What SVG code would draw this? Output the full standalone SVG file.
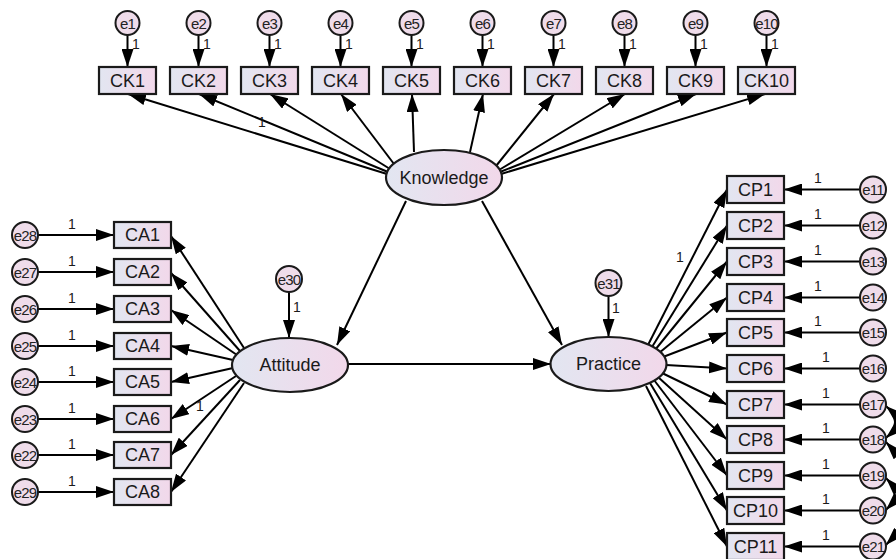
<svg xmlns="http://www.w3.org/2000/svg" width="896" height="559" viewBox="0 0 896 559">
<defs>
<linearGradient id="g" x1="0" y1="0" x2="1" y2="0">
<stop offset="0" stop-color="#e2e6f1"/>
<stop offset="1" stop-color="#f2d8ea"/>
</linearGradient>
<marker id="ah" markerUnits="userSpaceOnUse" markerWidth="18" markerHeight="12" refX="18" refY="6" orient="auto-start-reverse">
<path d="M0,0 L18,6 L0,12 z" fill="#000"/>
</marker>
</defs>
<style>
.b{fill:url(#g);stroke:#1a1a1a;stroke-width:2.2}
.e{fill:#efdcea;stroke:#1a1a1a;stroke-width:2}
.t{font-family:"Liberation Sans",Arial,sans-serif;font-size:18px;fill:#1a1a1a;text-anchor:middle;dominant-baseline:central}
.et{font-family:"Liberation Sans",Arial,sans-serif;font-size:15px;fill:#222;text-anchor:middle;dominant-baseline:central;letter-spacing:-0.8px}
.n{font-family:"Liberation Sans",Arial,sans-serif;font-size:14px;fill:#1a1a1a}
.c line,.c path{stroke:#000;stroke-width:2;fill:none;marker-end:url(#ah)}
.c path.cov{marker-start:url(#ah)}
</style>

<g id="connectors" class="c">
<line x1="127.5" y1="35" x2="127.5" y2="67"/>
<line x1="198.5" y1="35" x2="198.5" y2="67"/>
<line x1="269.5" y1="35" x2="269.5" y2="67"/>
<line x1="340.5" y1="35" x2="340.5" y2="67"/>
<line x1="411.5" y1="35" x2="411.5" y2="67"/>
<line x1="482.5" y1="35" x2="482.5" y2="67"/>
<line x1="553.5" y1="35" x2="553.5" y2="67"/>
<line x1="624.5" y1="35" x2="624.5" y2="67"/>
<line x1="695.5" y1="35" x2="695.5" y2="67"/>
<line x1="766.5" y1="35" x2="766.5" y2="67"/>
<line x1="387" y1="174" x2="128" y2="94"/>
<line x1="388" y1="172" x2="199" y2="94"/>
<line x1="390" y1="169" x2="270" y2="94"/>
<line x1="394" y1="164" x2="341" y2="94"/>
<line x1="414" y1="152" x2="412" y2="94"/>
<line x1="470" y1="152" x2="483" y2="94"/>
<line x1="496" y1="166" x2="554" y2="94"/>
<line x1="499" y1="170" x2="625" y2="94"/>
<line x1="500" y1="172" x2="696" y2="94"/>
<line x1="501" y1="174" x2="765" y2="94"/>
<line x1="406" y1="201" x2="337" y2="345"/>
<line x1="482" y1="201" x2="562" y2="345"/>
<line x1="348" y1="364" x2="551" y2="364"/>
<line x1="289" y1="292" x2="289" y2="338"/>
<line x1="608.5" y1="296" x2="608.5" y2="337"/>
<line x1="38" y1="235" x2="114" y2="235"/>
<line x1="38" y1="272" x2="114" y2="272"/>
<line x1="38" y1="309" x2="114" y2="309"/>
<line x1="38" y1="346" x2="114" y2="346"/>
<line x1="38" y1="382" x2="114" y2="382"/>
<line x1="38" y1="419" x2="114" y2="419"/>
<line x1="38" y1="455" x2="114" y2="455"/>
<line x1="38" y1="492" x2="114" y2="492"/>
<line x1="244" y1="348" x2="171" y2="236"/>
<line x1="240" y1="351" x2="171" y2="273"/>
<line x1="237" y1="355" x2="171" y2="310"/>
<line x1="233" y1="360" x2="171" y2="346"/>
<line x1="233" y1="368" x2="171" y2="382"/>
<line x1="236" y1="376" x2="171" y2="419"/>
<line x1="240" y1="380" x2="171" y2="455"/>
<line x1="244" y1="383" x2="171" y2="492"/>
<line x1="860" y1="189.5" x2="784" y2="189.5"/>
<line x1="860" y1="225.5" x2="784" y2="225.5"/>
<line x1="860" y1="261.5" x2="784" y2="261.5"/>
<line x1="860" y1="297.5" x2="784" y2="297.5"/>
<line x1="860" y1="332.5" x2="784" y2="332.5"/>
<line x1="860" y1="368.5" x2="784" y2="368.5"/>
<line x1="860" y1="404.5" x2="784" y2="404.5"/>
<line x1="860" y1="439.5" x2="784" y2="439.5"/>
<line x1="860" y1="475.5" x2="784" y2="475.5"/>
<line x1="860" y1="510.5" x2="784" y2="510.5"/>
<line x1="860" y1="546.5" x2="784" y2="546.5"/>
<line x1="648" y1="345" x2="727" y2="189.5"/>
<line x1="652" y1="347" x2="727" y2="225.5"/>
<line x1="655" y1="350" x2="727" y2="261.5"/>
<line x1="659" y1="353" x2="727" y2="297.5"/>
<line x1="663" y1="357" x2="727" y2="332.5"/>
<line x1="666" y1="365" x2="727" y2="368.5"/>
<line x1="662" y1="373" x2="727" y2="404.5"/>
<line x1="658" y1="377" x2="727" y2="439.5"/>
<line x1="654" y1="380" x2="727" y2="475.5"/>
<line x1="650" y1="383" x2="727" y2="510.5"/>
<line x1="646" y1="386" x2="727" y2="546.5"/>
<path class="cov" d="M886,406 Q904,422 886,438"/>
<path class="cov" d="M886,442 Q918,477 886,510"/>
<path class="cov" d="M886,478 Q918,512 886,545"/>
</g>

<g id="labels-one" class="n">
<text x="132" y="49">1</text><text x="203" y="49">1</text><text x="274" y="49">1</text><text x="345" y="49">1</text><text x="416" y="49">1</text>
<text x="487" y="49">1</text><text x="558" y="49">1</text><text x="629" y="49">1</text><text x="700" y="49">1</text><text x="771" y="49">1</text>
<text x="258" y="127">1</text>
<text x="68" y="229">1</text><text x="68" y="266">1</text><text x="68" y="303">1</text><text x="68" y="340">1</text>
<text x="68" y="376">1</text><text x="68" y="413">1</text><text x="68" y="449">1</text><text x="68" y="486">1</text>
<text x="196" y="411">1</text>
<text x="293" y="312">1</text>
<text x="612" y="313">1</text>
<text x="676" y="262">1</text>
<text x="814" y="183">1</text><text x="814" y="219">1</text><text x="814" y="255">1</text><text x="814" y="291">1</text><text x="814" y="326">1</text>
<text x="822" y="362">1</text><text x="822" y="398">1</text><text x="822" y="433">1</text><text x="822" y="469">1</text><text x="822" y="504">1</text><text x="822" y="540">1</text>
</g>

<g id="Knowledge"><ellipse class="b" cx="444" cy="177.5" rx="58" ry="27.5"/><text class="t" x="444" y="178">Knowledge</text></g>
<g id="Attitude"><ellipse class="b" cx="290" cy="365" rx="58" ry="27"/><text class="t" x="290" y="365">Attitude</text></g>
<g id="Practice"><ellipse class="b" cx="608.5" cy="364" rx="58" ry="27"/><text class="t" x="608.5" y="364">Practice</text></g>

<g id="CK1"><rect class="b" x="99" y="67" width="57" height="27"/><text class="t" x="127.5" y="81">CK1</text></g>
<g id="CK2"><rect class="b" x="170" y="67" width="57" height="27"/><text class="t" x="198.5" y="81">CK2</text></g>
<g id="CK3"><rect class="b" x="241" y="67" width="57" height="27"/><text class="t" x="269.5" y="81">CK3</text></g>
<g id="CK4"><rect class="b" x="312" y="67" width="57" height="27"/><text class="t" x="340.5" y="81">CK4</text></g>
<g id="CK5"><rect class="b" x="383" y="67" width="57" height="27"/><text class="t" x="411.5" y="81">CK5</text></g>
<g id="CK6"><rect class="b" x="454" y="67" width="57" height="27"/><text class="t" x="482.5" y="81">CK6</text></g>
<g id="CK7"><rect class="b" x="525" y="67" width="57" height="27"/><text class="t" x="553.5" y="81">CK7</text></g>
<g id="CK8"><rect class="b" x="596" y="67" width="57" height="27"/><text class="t" x="624.5" y="81">CK8</text></g>
<g id="CK9"><rect class="b" x="667" y="67" width="57" height="27"/><text class="t" x="695.5" y="81">CK9</text></g>
<g id="CK10"><rect class="b" x="738" y="67" width="57" height="27"/><text class="t" x="766.5" y="81">CK10</text></g>

<g id="e1"><circle class="e" cx="127.5" cy="23" r="12"/><text class="et" x="127.5" y="23">e1</text></g>
<g id="e2"><circle class="e" cx="198.5" cy="23" r="12"/><text class="et" x="198.5" y="23">e2</text></g>
<g id="e3"><circle class="e" cx="269.5" cy="23" r="12"/><text class="et" x="269.5" y="23">e3</text></g>
<g id="e4"><circle class="e" cx="340.5" cy="23" r="12"/><text class="et" x="340.5" y="23">e4</text></g>
<g id="e5"><circle class="e" cx="411.5" cy="23" r="12"/><text class="et" x="411.5" y="23">e5</text></g>
<g id="e6"><circle class="e" cx="482.5" cy="23" r="12"/><text class="et" x="482.5" y="23">e6</text></g>
<g id="e7"><circle class="e" cx="553.5" cy="23" r="12"/><text class="et" x="553.5" y="23">e7</text></g>
<g id="e8"><circle class="e" cx="624.5" cy="23" r="12"/><text class="et" x="624.5" y="23">e8</text></g>
<g id="e9"><circle class="e" cx="695.5" cy="23" r="12"/><text class="et" x="695.5" y="23">e9</text></g>
<g id="e10"><circle class="e" cx="766.5" cy="23" r="12"/><text class="et" x="766.5" y="23">e10</text></g>

<g id="CA1"><rect class="b" x="114" y="222" width="57" height="26"/><text class="t" x="142.5" y="235">CA1</text></g>
<g id="CA2"><rect class="b" x="114" y="259" width="57" height="26"/><text class="t" x="142.5" y="272">CA2</text></g>
<g id="CA3"><rect class="b" x="114" y="296" width="57" height="26"/><text class="t" x="142.5" y="309">CA3</text></g>
<g id="CA4"><rect class="b" x="114" y="333" width="57" height="26"/><text class="t" x="142.5" y="346">CA4</text></g>
<g id="CA5"><rect class="b" x="114" y="369" width="57" height="26"/><text class="t" x="142.5" y="382">CA5</text></g>
<g id="CA6"><rect class="b" x="114" y="406" width="57" height="26"/><text class="t" x="142.5" y="419">CA6</text></g>
<g id="CA7"><rect class="b" x="114" y="442" width="57" height="26"/><text class="t" x="142.5" y="455">CA7</text></g>
<g id="CA8"><rect class="b" x="114" y="479" width="57" height="26"/><text class="t" x="142.5" y="492">CA8</text></g>

<g id="e28"><circle class="e" cx="25" cy="235" r="13"/><text class="et" x="25" y="235">e28</text></g>
<g id="e27"><circle class="e" cx="25" cy="272" r="13"/><text class="et" x="25" y="272">e27</text></g>
<g id="e26"><circle class="e" cx="25" cy="309" r="13"/><text class="et" x="25" y="309">e26</text></g>
<g id="e25"><circle class="e" cx="25" cy="346" r="13"/><text class="et" x="25" y="346">e25</text></g>
<g id="e24"><circle class="e" cx="25" cy="382" r="13"/><text class="et" x="25" y="382">e24</text></g>
<g id="e23"><circle class="e" cx="25" cy="419" r="13"/><text class="et" x="25" y="419">e23</text></g>
<g id="e22"><circle class="e" cx="25" cy="455" r="13"/><text class="et" x="25" y="455">e22</text></g>
<g id="e29"><circle class="e" cx="25" cy="492" r="13"/><text class="et" x="25" y="492">e29</text></g>

<g id="e30"><circle class="e" cx="289" cy="279" r="13"/><text class="et" x="289" y="279">e30</text></g>
<g id="e31"><circle class="e" cx="608.5" cy="283" r="13"/><text class="et" x="608.5" y="283">e31</text></g>

<g id="CP1"><rect class="b" x="727" y="176" width="57" height="27"/><text class="t" x="755.5" y="189.5">CP1</text></g>
<g id="CP2"><rect class="b" x="727" y="212" width="57" height="27"/><text class="t" x="755.5" y="225.5">CP2</text></g>
<g id="CP3"><rect class="b" x="727" y="248" width="57" height="27"/><text class="t" x="755.5" y="261.5">CP3</text></g>
<g id="CP4"><rect class="b" x="727" y="284" width="57" height="27"/><text class="t" x="755.5" y="297.5">CP4</text></g>
<g id="CP5"><rect class="b" x="727" y="319" width="57" height="27"/><text class="t" x="755.5" y="332.5">CP5</text></g>
<g id="CP6"><rect class="b" x="727" y="355" width="57" height="27"/><text class="t" x="755.5" y="368.5">CP6</text></g>
<g id="CP7"><rect class="b" x="727" y="391" width="57" height="27"/><text class="t" x="755.5" y="404.5">CP7</text></g>
<g id="CP8"><rect class="b" x="727" y="426" width="57" height="27"/><text class="t" x="755.5" y="439.5">CP8</text></g>
<g id="CP9"><rect class="b" x="727" y="462" width="57" height="27"/><text class="t" x="755.5" y="475.5">CP9</text></g>
<g id="CP10"><rect class="b" x="727" y="497" width="57" height="27"/><text class="t" x="755.5" y="510.5">CP10</text></g>
<g id="CP11"><rect class="b" x="727" y="533" width="57" height="27"/><text class="t" x="755.5" y="546.5">CP11</text></g>

<g id="e11"><circle class="e" cx="873" cy="189.5" r="13"/><text class="et" x="873" y="189.5">e11</text></g>
<g id="e12"><circle class="e" cx="873" cy="225.5" r="13"/><text class="et" x="873" y="225.5">e12</text></g>
<g id="e13"><circle class="e" cx="873" cy="261.5" r="13"/><text class="et" x="873" y="261.5">e13</text></g>
<g id="e14"><circle class="e" cx="873" cy="297.5" r="13"/><text class="et" x="873" y="297.5">e14</text></g>
<g id="e15"><circle class="e" cx="873" cy="332.5" r="13"/><text class="et" x="873" y="332.5">e15</text></g>
<g id="e16"><circle class="e" cx="873" cy="368.5" r="13"/><text class="et" x="873" y="368.5">e16</text></g>
<g id="e17"><circle class="e" cx="873" cy="404.5" r="13"/><text class="et" x="873" y="404.5">e17</text></g>
<g id="e18"><circle class="e" cx="873" cy="439.5" r="13"/><text class="et" x="873" y="439.5">e18</text></g>
<g id="e19"><circle class="e" cx="873" cy="475.5" r="13"/><text class="et" x="873" y="475.5">e19</text></g>
<g id="e20"><circle class="e" cx="873" cy="510.5" r="13"/><text class="et" x="873" y="510.5">e20</text></g>
<g id="e21"><circle class="e" cx="873" cy="546.5" r="13"/><text class="et" x="873" y="546.5">e21</text></g>
</svg>
